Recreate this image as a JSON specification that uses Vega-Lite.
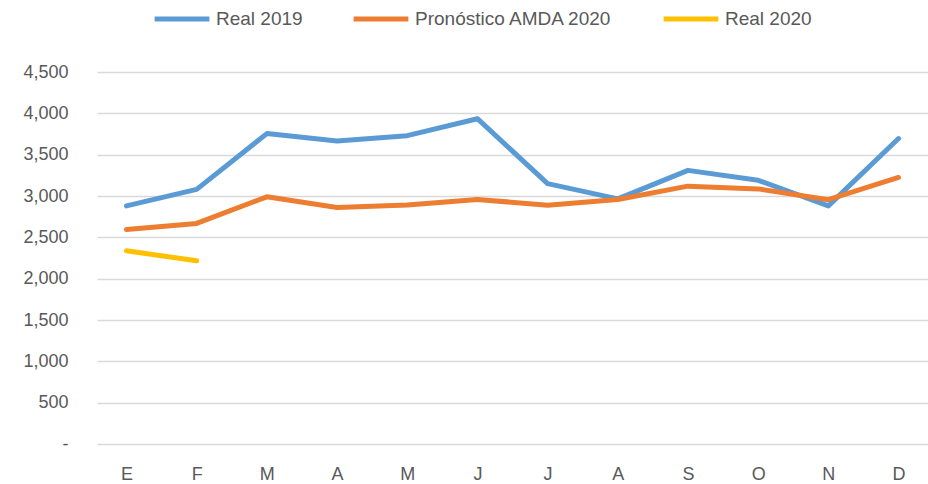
{
  "$schema": "https://vega.github.io/schema/vega-lite/v6.json",
  "width": 831,
  "height": 372,
  "autosize": {"type": "none"},
  "padding": {"left": 97, "top": 72, "right": 0, "bottom": 40},
  "background": "white",
  "config": {
    "view": {"stroke": null},
    "font": "Liberation Sans",
    "axis": {"labelColor": "#595959", "labelFontSize": 18, "domain": false, "ticks": false, "titlePadding": 0}
  },
  "data": {
    "values": [
      {"mes": 1, "serie": "Real 2019", "valor": 2880},
      {"mes": 2, "serie": "Real 2019", "valor": 3080},
      {"mes": 3, "serie": "Real 2019", "valor": 3755},
      {"mes": 4, "serie": "Real 2019", "valor": 3665},
      {"mes": 5, "serie": "Real 2019", "valor": 3730},
      {"mes": 6, "serie": "Real 2019", "valor": 3935},
      {"mes": 7, "serie": "Real 2019", "valor": 3150},
      {"mes": 8, "serie": "Real 2019", "valor": 2965},
      {"mes": 9, "serie": "Real 2019", "valor": 3310},
      {"mes": 10, "serie": "Real 2019", "valor": 3190},
      {"mes": 11, "serie": "Real 2019", "valor": 2880},
      {"mes": 12, "serie": "Real 2019", "valor": 3695},
      {"mes": 1, "serie": "Pronóstico AMDA 2020", "valor": 2595},
      {"mes": 2, "serie": "Pronóstico AMDA 2020", "valor": 2668},
      {"mes": 3, "serie": "Pronóstico AMDA 2020", "valor": 2990},
      {"mes": 4, "serie": "Pronóstico AMDA 2020", "valor": 2860},
      {"mes": 5, "serie": "Pronóstico AMDA 2020", "valor": 2890},
      {"mes": 6, "serie": "Pronóstico AMDA 2020", "valor": 2958},
      {"mes": 7, "serie": "Pronóstico AMDA 2020", "valor": 2889},
      {"mes": 8, "serie": "Pronóstico AMDA 2020", "valor": 2958},
      {"mes": 9, "serie": "Pronóstico AMDA 2020", "valor": 3119},
      {"mes": 10, "serie": "Pronóstico AMDA 2020", "valor": 3086},
      {"mes": 11, "serie": "Pronóstico AMDA 2020", "valor": 2955},
      {"mes": 12, "serie": "Pronóstico AMDA 2020", "valor": 3224},
      {"mes": 1, "serie": "Real 2020", "valor": 2337},
      {"mes": 2, "serie": "Real 2020", "valor": 2216}
    ]
  },
  "mark": {"type": "line", "strokeWidth": 5, "strokeCap": "round", "strokeJoin": "round"},
  "encoding": {
    "x": {
      "field": "mes",
      "type": "ordinal",
      "scale": {"type": "point", "padding": 0.42},
      "axis": {
        "title": null,
        "grid": false,
        "labelAngle": 0,
        "labelPadding": 21,
        "labelExpr": "['E','F','M','A','M','J','J','A','S','O','N','D'][datum.value - 1]"
      }
    },
    "y": {
      "field": "valor",
      "type": "quantitative",
      "scale": {"domain": [0, 4500], "nice": false},
      "axis": {
        "title": null,
        "values": [0, 500, 1000, 1500, 2000, 2500, 3000, 3500, 4000, 4500],
        "grid": true,
        "gridColor": "#D9D9D9",
        "gridWidth": 1.5,
        "labelPadding": 29,
        "labelExpr": "datum.value == 0 ? '-' : format(datum.value, ',')"
      }
    },
    "color": {
      "field": "serie",
      "type": "nominal",
      "scale": {
        "domain": ["Real 2019", "Pronóstico AMDA 2020", "Real 2020"],
        "range": ["#5B9BD5", "#ED7D31", "#FFC000"]
      },
      "legend": {
        "title": null,
        "orient": "none",
        "direction": "horizontal",
        "legendX": 55,
        "legendY": -83,
        "symbolType": "stroke",
        "symbolSize": 3000,
        "symbolStrokeWidth": 5,
        "labelFontSize": 19,
        "labelColor": "#595959",
        "labelOffset": 4,
        "labelLimit": 0,
        "columnPadding": 40
      }
    }
  }
}
